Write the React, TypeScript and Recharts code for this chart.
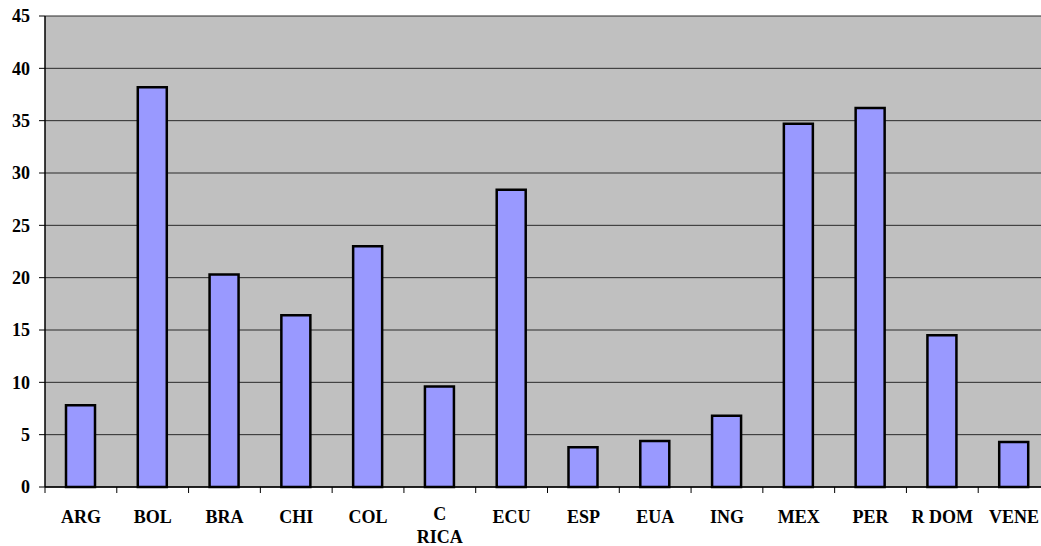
import React from "react";
import { BarChart, Bar, XAxis, YAxis, CartesianGrid } from "recharts";

// Country codes along the category axis ("\n" marks a wrapped label)
const categories = ["ARG", "BOL", "BRA", "CHI", "COL", "C\nRICA", "ECU", "ESP", "EUA", "ING", "MEX", "PER", "R DOM", "VENE"];
// Value per country
const values = [7.8, 38.2, 20.3, 16.4, 23.0, 9.6, 28.4, 3.8, 4.4, 6.8, 34.7, 36.2, 14.5, 4.3];
// Value axis ticks
const yTicks = [0, 5, 10, 15, 20, 25, 30, 35, 40, 45];

const data = categories.map((name, i) => ({ name, value: values[i] }));

const FONT = "'Liberation Serif', 'Times New Roman', serif";

// Category label plus the short divider tick between neighbouring categories
const CategoryTick = (props: any) => {
  const { x, y, payload } = props;
  const half = payload && typeof payload.offset === "number" ? payload.offset : 0;
  const lines = String(payload.value).split("\n");
  const firstBaseline = lines.length > 1 ? 33 : 36;
  return (
    <g>
      <line x1={x - half} x2={x - half} y1={y} y2={y + 6} stroke="#000" strokeWidth={1} />
      <text
        x={x}
        y={y + firstBaseline}
        textAnchor="middle"
        fontFamily={FONT}
        fontWeight="bold"
        fontSize={18}
        fill="#000"
      >
        {lines.map((ln, i) => (
          <tspan key={i} x={x} dy={i === 0 ? 0 : 23}>
            {ln}
          </tspan>
        ))}
      </text>
    </g>
  );
};

export default function App() {
  return (
    <div
      style={{
        position: "fixed",
        left: 0,
        top: 0,
        width: 1041,
        height: 546,
        overflow: "hidden",
        background: "#fff",
      }}
    >
      <BarChart
        width={1060}
        height={546}
        data={data}
        margin={{ top: 16, right: 10, left: 0, bottom: 0 }}
        barSize={29}
      >
        <CartesianGrid
          vertical={false}
          fill="#C0C0C0"
          stroke="#2a2a2a"
          strokeWidth={1}
          fillOpacity={1}
        />
        <XAxis
          dataKey="name"
          interval={0}
          height={59}
          tickSize={0}
          tickMargin={0}
          tickLine={false}
          axisLine={{ stroke: "#000", strokeWidth: 1.5 }}
          tick={<CategoryTick />}
        />
        <YAxis
          width={45}
          domain={[0, 45]}
          ticks={yTicks}
          interval={0}
          tickSize={6}
          tickMargin={9}
          axisLine={{ stroke: "#000", strokeWidth: 1.5 }}
          tickLine={{ stroke: "#000" }}
          tick={{ fontFamily: FONT, fontWeight: "bold", fontSize: 18, fill: "#000" }}
        />
        <Bar
          dataKey="value"
          fill="#9999FF"
          stroke="#000"
          strokeWidth={2.5}
          isAnimationActive={false}
        />
      </BarChart>
    </div>
  );
}
